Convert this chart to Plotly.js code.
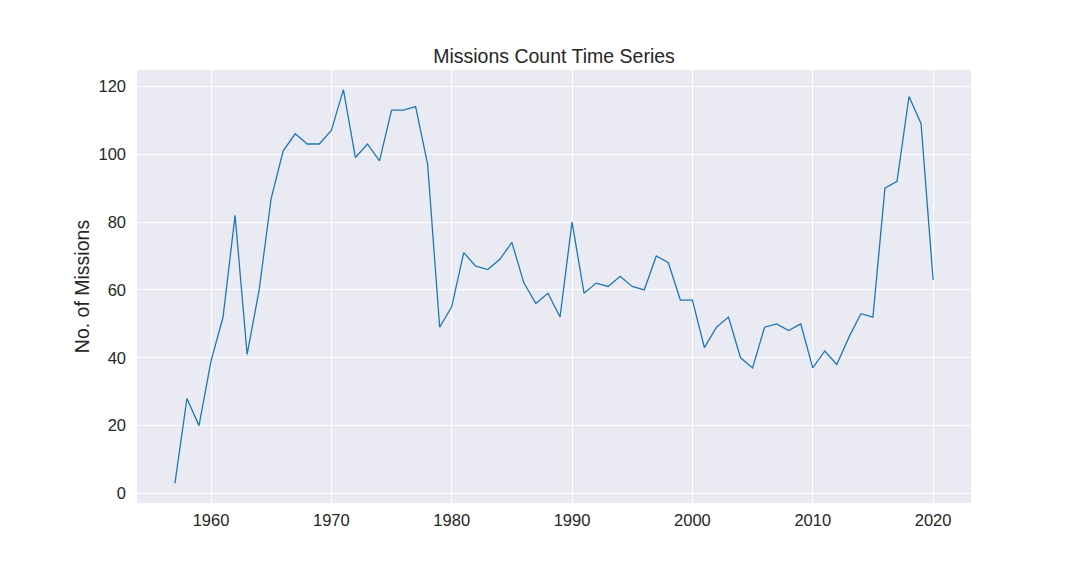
<!DOCTYPE html>
<html>
<head>
<meta charset="utf-8">
<script src="https://cdn.plot.ly/plotly-3.0.1.min.js"></script>
<style>html,body{margin:0;padding:0;background:#fff;}#chart{width:1080px;height:576px;}</style>
</head>
<body>
<div id="chart"></div>
<script>
const years = [1957,1958,1959,1960,1961,1962,1963,1964,1965,1966,1967,1968,1969,1970,1971,1972,1973,1974,1975,1976,1977,1978,1979,1980,1981,1982,1983,1984,1985,1986,1987,1988,1989,1990,1991,1992,1993,1994,1995,1996,1997,1998,1999,2000,2001,2002,2003,2004,2005,2006,2007,2008,2009,2010,2011,2012,2013,2014,2015,2016,2017,2018,2019,2020];
const missions = [3,28,20,39,52,82,41,60,87,101,106,103,103,107,119,99,103,98,113,113,114,97,49,55,71,67,66,69,74,62,56,59,52,80,59,62,61,64,61,60,70,68,57,57,43,49,52,40,37,49,50,48,50,37,42,38,46,53,52,90,92,117,109,63];
const xTicks = [1960,1970,1980,1990,2000,2010,2020];
const yTicks = [0,20,40,60,80,100,120];

const font = "Liberation Sans, Arial, sans-serif";
Plotly.newPlot('chart', [{
  x: years, y: missions, type: 'scatter', mode: 'lines',
  line: {color: '#1f77b4', width: 1.3}, hoverinfo: 'skip'
}], {
  width: 1080, height: 576,
  margin: {l: 137, r: 109, t: 70, b: 73, pad: 0},
  paper_bgcolor: '#ffffff', plot_bgcolor: '#EAEAF2',
  showlegend: false,
  title: {text: 'Missions Count Time Series', font: {family: font, size: 19.5, color: '#262626'},
          x: 0.5, xref: 'paper', xanchor: 'center', y: 1, yref: 'paper', yanchor: 'bottom', pad: {b: 7}},
  xaxis: {range: [1953.85, 2023.15], tickvals: xTicks, ticktext: xTicks.map(String),
          showgrid: true, gridcolor: '#ffffff', gridwidth: 1, zeroline: false, showline: false,
          ticks: '', ticklen: 0, ticklabelstandoff: 5, tickfont: {family: font, size: 16.5, color: '#262626'}},
  yaxis: {range: [-2.8, 124.8], tickvals: yTicks, ticktext: yTicks.map(String),
          showgrid: true, gridcolor: '#ffffff', gridwidth: 1, zeroline: false, showline: false,
          ticks: '', ticklen: 0, ticklabelstandoff: 10, tickfont: {family: font, size: 16.5, color: '#262626'},
          title: {text: 'No. of Missions', font: {family: font, size: 19.5, color: '#262626'}, standoff: 3}}
}, {staticPlot: true, displayModeBar: false});
</script>
</body>
</html>
